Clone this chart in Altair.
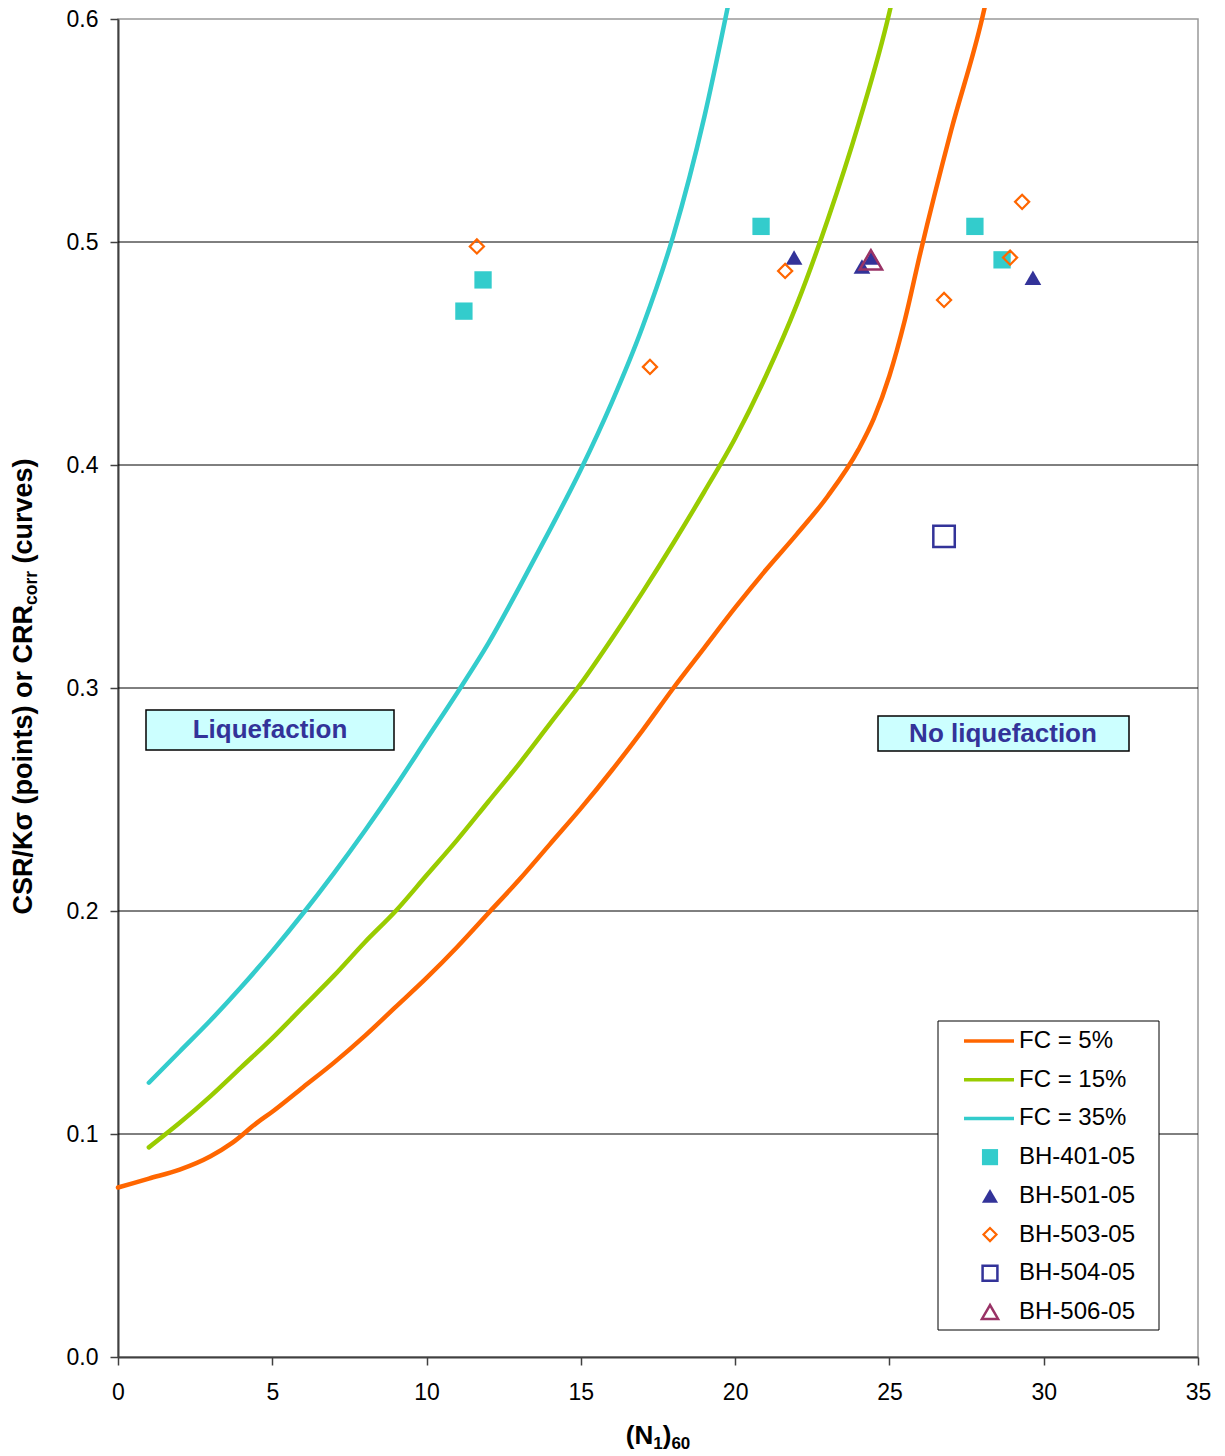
import altair as alt
import pandas as pd

FONT = "Liberation Sans"

# ---------------- data ----------------
x_ticks = [0, 5, 10, 15, 20, 25, 30, 35]
y_ticks = [0.0, 0.1, 0.2, 0.3, 0.4, 0.5, 0.6]
grid_vals = [0.1, 0.2, 0.3, 0.4, 0.5]

fc5_n = [0, 1, 2, 3, 3.7, 4.5, 5, 6, 7, 8, 9, 10, 11, 12, 13, 14, 15, 16, 17, 18,
         19, 20, 21, 22, 23, 24, 24.5, 25, 25.5, 26, 27, 28, 28.1]
fc5_crr = [0.076, 0.080, 0.084, 0.090, 0.096, 0.105, 0.110, 0.121, 0.132, 0.144,
           0.157, 0.170, 0.184, 0.199, 0.214, 0.230, 0.246, 0.263, 0.281, 0.300,
           0.318, 0.336, 0.353, 0.369, 0.386, 0.407, 0.421, 0.440, 0.465, 0.495,
           0.550, 0.600, 0.606]

fc15_n = [1, 2, 3, 4, 5, 6, 7, 8, 9, 10, 11, 12, 13, 14, 15, 16, 17, 18, 19, 20,
          21, 22, 23, 24, 25, 25.05]
fc15_crr = [0.094, 0.105, 0.117, 0.130, 0.143, 0.157, 0.171, 0.186, 0.200, 0.216,
            0.232, 0.249, 0.266, 0.284, 0.302, 0.322, 0.343, 0.365, 0.388, 0.412,
            0.440, 0.472, 0.510, 0.553, 0.603, 0.606]

fc35_n = [1, 2, 3, 4, 5, 6, 7, 8, 9, 10, 11, 12, 13, 14, 15, 16, 17, 18, 19, 19.77]
fc35_crr = [0.123, 0.137, 0.151, 0.166, 0.182, 0.199, 0.217, 0.236, 0.256, 0.277,
            0.298, 0.320, 0.345, 0.371, 0.398, 0.428, 0.462, 0.503, 0.556, 0.606]

bh401_n = [11.21, 11.83, 20.84, 27.77, 28.65]
bh401_csr = [0.469, 0.483, 0.507, 0.507, 0.492]
bh501_n = [21.91, 24.11, 24.43, 29.65]
bh501_csr = [0.493, 0.489, 0.493, 0.484]
bh503_n = [11.63, 17.24, 21.62, 26.77, 29.30, 28.91]
bh503_csr = [0.498, 0.444, 0.487, 0.474, 0.518, 0.493]
bh504_n = [26.77]
bh504_csr = [0.368]
bh506_n = [24.40]
bh506_csr = [0.492]

curve_labels = ["FC = 5%", "FC = 15%", "FC = 35%"]
point_labels = ["BH-401-05", "BH-501-05", "BH-503-05", "BH-504-05", "BH-506-05"]
legend_labels = curve_labels + point_labels

# ---------------- styles ----------------
curve_colors = ["#FF6600", "#99CC00", "#33CCCC"]
point_styles = {
    "BH-401-05": dict(shape="square", filled=True, color="#33CCCC", size=300, strokeWidth=0, lsize=260),
    "BH-501-05": dict(shape="triangle-up", filled=True, color="#333399", size=280, strokeWidth=0, lsize=260),
    "BH-503-05": dict(shape="diamond", filled=False, color="#FF6600", size=200, strokeWidth=2.2, lsize=170),
    "BH-504-05": dict(shape="square", filled=False, color="#333399", size=460, strokeWidth=2.5, lsize=220),
    "BH-506-05": dict(shape="triangle-up", filled=False, color="#993366", size=500, strokeWidth=2.5, lsize=260),
}

xs = alt.Scale(domain=[0, 35], nice=False, zero=False)
ys = alt.Scale(domain=[0, 0.6], nice=False, zero=False)
AX_COL = "#404040"
x_axis = alt.Axis(values=x_ticks, format="d", grid=False, title=None, tickSize=8,
                  labelPadding=16, labelFont=FONT, labelFontSize=23, labelColor="black",
                  domainColor=AX_COL, domainWidth=2, tickColor=AX_COL, tickWidth=1.5,
                  labelAngle=0, labelFlush=False, labelOverlap=False)
y_axis = alt.Axis(values=y_ticks, format=".1f", grid=False, title=None, tickSize=8,
                  labelPadding=12, labelFont=FONT, labelFontSize=23, labelColor="black",
                  domainColor=AX_COL, domainWidth=2, tickColor=AX_COL, tickWidth=1.5,
                  labelFlush=False, labelOverlap=False)

dummy = pd.DataFrame({"a": [0]})

layers = []

# grid lines (and the y axis)
grid_df = pd.DataFrame({"g": grid_vals})
layers.append(alt.Chart(grid_df).mark_rule(color="black", strokeWidth=1).encode(
    y=alt.Y("g:Q", scale=ys, axis=y_axis)))

# curves
for lab, col, nn, cc in zip(curve_labels, curve_colors,
                            [fc5_n, fc15_n, fc35_n], [fc5_crr, fc15_crr, fc35_crr]):
    df = pd.DataFrame({"n": nn, "crr": cc})
    layers.append(alt.Chart(df).mark_line(color=col, strokeWidth=4.5, interpolate="monotone",
                                          strokeCap="round").encode(
        x=alt.X("n:Q", scale=xs, axis=x_axis),
        y=alt.Y("crr:Q", scale=ys, axis=None)))

# points
pt_data = {"BH-401-05": (bh401_n, bh401_csr), "BH-501-05": (bh501_n, bh501_csr),
           "BH-503-05": (bh503_n, bh503_csr), "BH-504-05": (bh504_n, bh504_csr),
           "BH-506-05": (bh506_n, bh506_csr)}
for lab in point_labels:
    st = point_styles[lab]
    nn, cc = pt_data[lab]
    df = pd.DataFrame({"n": nn, "csr": cc})
    kw = dict(shape=st["shape"], filled=st["filled"], size=st["size"], opacity=1)
    if st["filled"]:
        kw.update(fill=st["color"], strokeWidth=0)
    else:
        kw.update(stroke=st["color"], strokeWidth=st["strokeWidth"], fill="white", fillOpacity=0)
    layers.append(alt.Chart(df).mark_point(**kw).encode(
        x=alt.X("n:Q", scale=xs, axis=x_axis),
        y=alt.Y("csr:Q", scale=ys, axis=None)))


def box(x1, y1, x2, y2, fill, stroke, sw):
    return alt.Chart(dummy).mark_rect(fill=fill, stroke=stroke, strokeWidth=sw).encode(
        x=alt.value(x1), x2=alt.value(x2), y=alt.value(y1), y2=alt.value(y2))


def txt(text, x, y, size, angle=0, align="left", bold=True, color="black", baseline="alphabetic"):
    return alt.Chart(dummy).mark_text(text=text, font=FONT, fontSize=size,
                                      fontWeight="bold" if bold else "normal",
                                      angle=angle, align=align, baseline=baseline,
                                      color=color).encode(x=alt.value(x), y=alt.value(y))


# annotation boxes
layers.append(box(28, 691, 276, 731, "#CCFFFF", "black", 1.5))
layers.append(txt("Liquefaction", 152, 711, 26, align="center", color="#333399", baseline="middle"))
layers.append(box(760, 697, 1011, 732, "#CCFFFF", "black", 1.5))
layers.append(txt("No liquefaction", 885, 715, 26, align="center", color="#333399", baseline="middle"))

# legend
layers.append(box(820, 1002, 1041, 1311, "white", "black", 1))
ly = alt.Scale(domain=[0, 7], range=[1022, 1293])
leg_df = pd.DataFrame({"label": legend_labels, "idx": list(range(len(legend_labels)))})
layers.append(alt.Chart(leg_df.iloc[:3]).mark_rule(strokeWidth=3.5).encode(
    x=alt.value(846), x2=alt.value(896),
    y=alt.Y("idx:Q", scale=ly, axis=None),
    color=alt.Color("label:N", scale=alt.Scale(domain=curve_labels, range=curve_colors), legend=None)))
for lab in point_labels:
    st = point_styles[lab]
    kw = dict(shape=st["shape"], filled=st["filled"], size=st["lsize"], opacity=1)
    if st["filled"]:
        kw.update(fill=st["color"], strokeWidth=0)
    else:
        kw.update(stroke=st["color"], strokeWidth=st["strokeWidth"], fillOpacity=0)
    layers.append(alt.Chart(leg_df[leg_df["label"] == lab]).mark_point(**kw).encode(
        x=alt.value(872), y=alt.Y("idx:Q", scale=ly, axis=None)))
layers.append(alt.Chart(leg_df).mark_text(align="left", baseline="middle", font=FONT,
                                          fontSize=24, color="black").encode(
    x=alt.value(901), y=alt.Y("idx:Q", scale=ly, axis=None), text="label:N"))

# x-axis title: (N1)60 with subscripts
X0 = 535.2
layers.append(txt("(N", X0, 1425, 26, align="right"))
layers.append(txt("1", X0, 1430, 17))
layers.append(txt(")", X0 + 9.5, 1425, 26))
layers.append(txt("60", X0 + 9.5 + 8.7, 1430, 17))

# y-axis title: CSR/Kσ (points) or CRRcorr (curves)
J1 = 586.0
J2 = J1 - 34.0 - 7.5
YB = -86.0
layers.append(txt("CSR/K\u03c3 (points) or CRR", YB, J1, 27, angle=270, align="right"))
layers.append(txt("corr", YB + 5, J1, 17.5, angle=270, align="left"))
layers.append(txt("(curves)", YB, J2, 27, angle=270, align="left"))

chart = alt.layer(*layers).resolve_scale(y="independent").properties(
    width=1080, height=1338,
    autosize=alt.AutoSizeParams(type="none"),
    padding={"left": 110, "top": 11, "right": 19, "bottom": 101},
    background="white",
).configure_view(stroke="#999999", strokeWidth=1.5)

chart.save("out.html", embed_options={"renderer": "svg", "actions": False})
